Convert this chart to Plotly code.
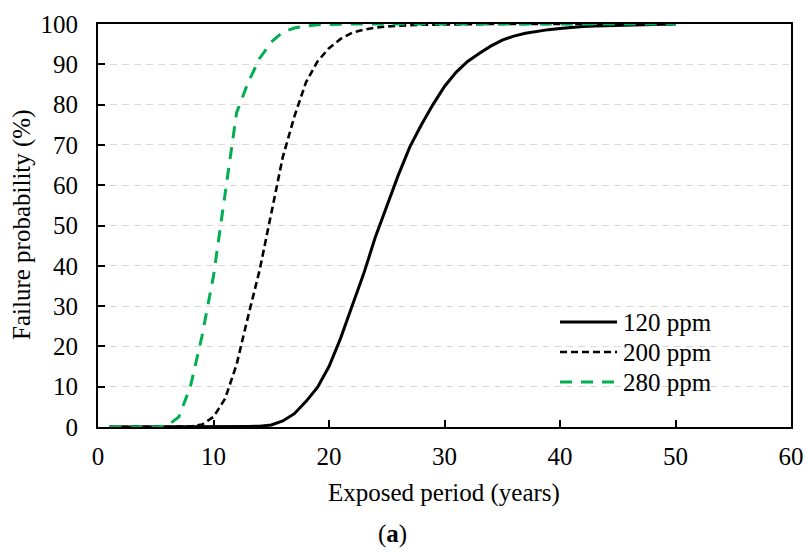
import plotly.graph_objects as go

years = list(range(1, 51))

ppm120 = [0, 0, 0, 0, 0, 0, 0, 0, 0, 0.05,
          0.1, 0.1, 0.15, 0.2, 0.5, 1.5, 3.3, 6.3, 9.8, 15,
          22, 30, 38, 47, 55, 62.5, 69.5, 75, 80, 84.5,
          88, 90.7, 92.7, 94.5, 96, 97, 97.7, 98.2, 98.6, 98.9,
          99.2, 99.4, 99.5, 99.6, 99.7, 99.8, 99.85, 99.9, 99.95, 100]

ppm200 = [0, 0, 0, 0, 0, 0, 0, 0.1, 0.6, 2.5,
          7, 15.5, 27.5, 39, 53, 67, 77, 85.5, 90.7, 94,
          96.3, 97.8, 98.6, 99.1, 99.4, 99.6, 99.7, 99.8, 99.85, 99.9,
          100, 100, 100, 100, 100, 100, 100, 100, 100, 100,
          100, 100, 100, 100, 100, 100, 100, 100, 100, 100]

ppm280 = [0, 0, 0, 0, 0, 0.3, 2.5, 10, 22.5, 37.5,
          58, 78, 85.5, 91.5, 95.5, 98, 99, 99.5, 99.8, 99.9,
          100, 100, 100, 100, 100, 100, 100, 100, 100, 100,
          100, 100, 100, 100, 100, 100, 100, 100, 100, 100,
          100, 100, 100, 100, 100, 100, 100, 100, 100, 100]

series_names = ["120 ppm", "200 ppm", "280 ppm"]
x_ticks = [0, 10, 20, 30, 40, 50, 60]
y_ticks = [0, 10, 20, 30, 40, 50, 60, 70, 80, 90, 100]

FONT = "Liberation Serif, Times New Roman, serif"
FS = 25

styles = [dict(color="black", width=3),
          dict(color="black", width=2.6, dash="7px,4px"),
          dict(color="#00B050", width=3, dash="12px,9px")]

fig = go.Figure()
for name, ys, st in zip(series_names, [ppm120, ppm200, ppm280], styles):
    fig.add_trace(go.Scatter(x=years, y=ys, mode="lines", name=name,
                             line=st, showlegend=False, hoverinfo="skip"))

# body margin removed in the page (post_script); plot area lands at
# screen pixels x 98..791, y 24..427
X0, X1, Y0, Y1 = 98, 791, 24, 427
W, H = 806, 553
L, T = X0, Y0
R, B = W - X1, H - Y1
pw, ph = X1 - X0, Y1 - Y0
def px(xp):
    return (xp - X0) / pw
def py(yp):
    return (Y1 - yp) / ph

shapes = []
annotations = []
legend_rows = [322, 352, 382]
for name, st, yr in zip(series_names, styles, legend_rows):
    shapes.append(dict(type="line", xref="paper", yref="paper",
                       x0=px(560), x1=px(617), y0=py(yr), y1=py(yr),
                       line=st))
    annotations.append(dict(text=name, xref="paper", yref="paper",
                            x=px(621), y=py(yr), xanchor="left", yanchor="middle",
                            showarrow=False, font=dict(size=FS, family=FONT)))

annotations += [
    dict(text="Exposed period (years)", xref="paper", yref="paper",
         x=px(444), y=py(493), xanchor="center", yanchor="middle",
         showarrow=False, font=dict(size=FS, family=FONT)),
    dict(text="Failure probability (%)", xref="paper", yref="paper",
         x=px(22), y=py(225), xanchor="center", yanchor="middle", textangle=-90,
         showarrow=False, font=dict(size=FS, family=FONT)),
    dict(text="(<b>a</b>)", xref="paper", yref="paper",
         x=px(392), y=py(534), xanchor="center", yanchor="middle",
         showarrow=False, font=dict(size=FS, family=FONT)),
]

fig.update_layout(
    width=W, height=H,
    margin=dict(l=L, r=R, t=T, b=B),
    paper_bgcolor="white", plot_bgcolor="white",
    font=dict(family=FONT, size=FS, color="black"),
    showlegend=False,
    hovermode=False,
    xaxis=dict(range=[0, 60], tickvals=x_ticks, ticks="inside", ticklen=7,
               tickwidth=1.5, tickcolor="black", showline=True, linecolor="black",
               linewidth=2, mirror=True, showgrid=False, zeroline=False,
               automargin=False, ticklabelstandoff=6,
               tickfont=dict(size=FS, family=FONT)),
    yaxis=dict(range=[0, 100], tickvals=y_ticks, ticks="inside", ticklen=7,
               tickwidth=1.5, tickcolor="black", showline=True, linecolor="black",
               linewidth=2, mirror=True, showgrid=True, gridcolor="#D9D9D9",
               griddash="7px,5px", gridwidth=1.3, zeroline=False,
               automargin=False, ticklabelstandoff=13,
               tickfont=dict(size=FS, family=FONT)),
    shapes=shapes,
    annotations=annotations,
)

fig.write_html("out.html",
               config={"displayModeBar": False},
               post_script="document.body.style.margin='0';document.body.style.overflow='hidden';")
